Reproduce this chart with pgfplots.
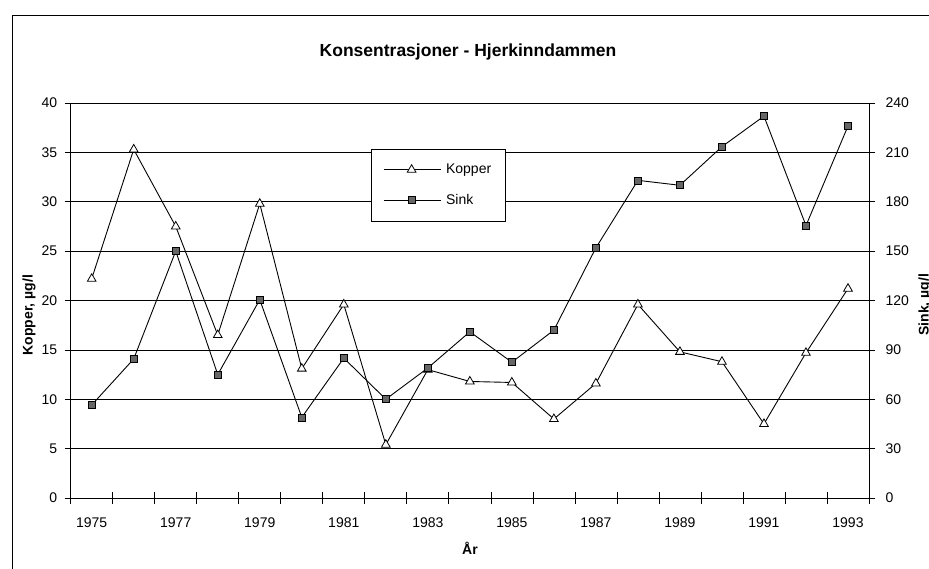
\documentclass[border=0pt]{standalone}
\usepackage{pgfplots}
\usepackage{pgfplotstable}
\pgfplotsset{compat=1.18}
\usepackage{fontspec}
\setmainfont{Liberation Sans}

\pgfplotstableread{
year kopper sink
1975 22.2 56.5
1976 35.3 84.5
1977 27.5 150
1978 16.5 75
1979 29.8 120.5
1980 13.1 49
1981 19.6 85
1982 5.4 60
1983 13.0 79
1984 11.8 101
1985 11.7 82.5
1986 8.0 102
1987 11.6 152
1988 19.6 193
1989 14.8 190
1990 13.8 213.5
1991 7.5 232
1992 14.7 165.5
1993 21.2 226
}\data

\pgfplotsset{
  kopperstyle/.style={black, line width=0.9pt, mark=triangle*, mark size=5pt, mark options={fill=white, line width=0.8pt}},
  sinkstyle/.style={black, line width=0.9pt, mark=square*, mark size=3.5pt, mark options={fill=black!60, line width=0.7pt}},
  common/.style={
    at={(70.7pt,-498pt)}, anchor=south west, scale only axis,
    width=798.3pt, height=395pt,
    xmin=1974.5, xmax=1993.5, ymin=0,
    tick align=center,
    /pgf/number format/assume math mode=true,
    ticklabel style={font=\fontsize{14}{16}\selectfont},
    axis line style={line width=0.8pt},
    clip=false,
  },
}

\begin{document}
\begin{tikzpicture}
\useasboundingbox (0pt,0pt) rectangle (929pt,-569pt);
\draw[line width=0.8pt] (12pt,-569pt) -- (12pt,-15pt) -- (929pt,-15pt);
\node[font=\bfseries\fontsize{17.5}{20}\selectfont] at (468pt,-52pt) {Konsentrasjoner - Hjerkinndammen};

\begin{axis}[common,
  ymax=40,
  axis x line*=bottom, axis y line*=left,
  xtick={1975,1977,...,1993},
  xticklabels={1975,1977,1979,1981,1983,1985,1987,1989,1991,1993},
  xticklabel style={yshift=-10pt},
  yticklabel style={xshift=-4pt},
  major x tick style={draw=none},
  minor xtick={1974.5,1975.5,...,1993.5},
  minor tick length=12pt,
  major tick length=12pt,
  ytick={0,5,...,40},
  ymajorgrids,
  major grid style={black, line width=0.6pt},
  tick style={black, line width=0.7pt},
  xlabel={År},
  xlabel style={font=\bfseries\fontsize{14}{16}\selectfont, at={(axis description cs:0.5002,-0.1266)}, anchor=center},
  ylabel={Kopper, µg/l},
  ylabel style={font=\bfseries\fontsize{14}{16}\selectfont, at={(axis description cs:-0.0522,0.463)}, anchor=center},
]
\addplot[kopperstyle] table[x=year, y=kopper] {\data};
\end{axis}

\begin{axis}[common,
  ymax=240,
  axis x line=none, axis y line*=right,
  ytick={0,30,...,240},
  yticklabel style={xshift=7pt},
  major tick length=12pt,
  tick style={black, line width=0.7pt},
  ylabel={Sink, µg/l},
  ylabel style={font=\bfseries\fontsize{14}{16}\selectfont, at={(axis description cs:1.0702,0.489)}, anchor=center},
  legend style={at={(axis description cs:0.376,0.884)}, anchor=north west,
    draw=black, line width=0.6pt, fill=white,
    font=\fontsize{14}{16}\selectfont,
    inner xsep=12pt, inner ysep=13pt, row sep=15pt, column sep=3pt},
  legend cell align=left,
  legend image code/.code={\draw[#1, mark repeat=2, mark phase=2] plot coordinates {(0pt,0pt) (28pt,0pt) (57pt,0pt)};},
]
\addlegendimage{kopperstyle}
\addlegendentry{Kopper}
\addplot[sinkstyle] table[x=year, y=sink] {\data};
\addlegendentry{Sink}
\end{axis}
\end{tikzpicture}
\end{document}
